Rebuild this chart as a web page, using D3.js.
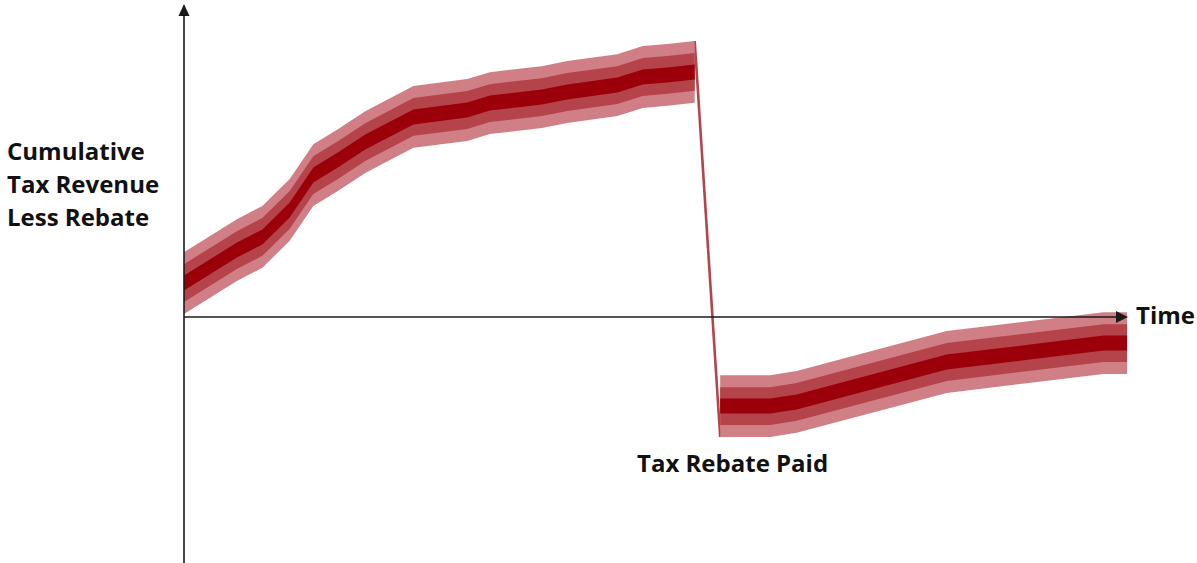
<!DOCTYPE html>
<html>
<head>
<meta charset="utf-8">
<script src="https://cdn.jsdelivr.net/npm/d3@7"></script>
<style>
  body { margin: 0; background: #fff; }
  svg text { font-family: "Open Sans", Lato, sans-serif; font-weight: 700; fill: #111; }
</style>
</head>
<body>
<svg id="chart" width="1197" height="563"></svg>
<script>
// time points and cumulative revenue before the rebate
const timeBefore = [0, 5.6, 8.3, 11.2, 13.7, 16.3, 19.2, 24.3, 30.0, 32.4, 37.9, 40.6, 45.9, 48.6, 51.2, 54.1];
const revBefore  = [11.3, 22.3, 26.7, 35.7, 47.3, 52.3, 58.3, 66.7, 69, 71.3, 73.3, 75, 77.3, 80, 80.7, 81.7];
// time points and cumulative revenue after the rebate
const timeAfter = [56.8, 59.2, 62.1, 64.9, 80.8, 97.4, 99.9];
const revAfter  = [-29.7, -29.7, -29.7, -28.3, -15, -8.7, -8.7];
// uncertainty band half-widths (outer, middle, inner)
const bandSpread = [10.3, 6.3, 2.5];
const bandColors = ["#cf7f85", "#b5434a", "#9b000a"];

const yLabel = ["Cumulative", "Tax Revenue", "Less Rebate"];
const xLabel = "Time";
const dropLabel = "Tax Rebate Paid";

const svg = d3.select("#chart");
const x = d3.scaleLinear().domain([0, 100]).range([184, 1128]);
const y = d3.scaleLinear().domain([0, 100]).range([317, 17]);

const before = timeBefore.map((t, i) => ({t, v: revBefore[i]}));
const after = timeAfter.map((t, i) => ({t, v: revAfter[i]}));

// drop at rebate: from top of band before to bottom of band after
const last = before[before.length - 1], first = after[0];
svg.append("line")
  .attr("x1", x(last.t)).attr("y1", y(last.v + bandSpread[0]))
  .attr("x2", x(first.t)).attr("y2", y(first.v - bandSpread[0]))
  .attr("stroke", "#b5434a").attr("stroke-width", 2.6);

[before, after].forEach(seg => {
  bandSpread.forEach((s, i) => {
    const area = d3.area()
      .x(d => x(d.t))
      .y0(d => y(d.v - s))
      .y1(d => y(d.v + s));
    svg.append("path")
      .datum(seg)
      .attr("d", area)
      .attr("fill", bandColors[i]);
  });
});

// axes with arrowheads
const axisColor = "#1a1a1a";
svg.append("line")
  .attr("x1", x(0)).attr("x2", x(0))
  .attr("y1", 563).attr("y2", 12)
  .attr("stroke", axisColor).attr("stroke-width", 1.6);
svg.append("path")
  .attr("d", `M${x(0)},4 L${x(0) - 5.5},16 L${x(0) + 5.5},16 Z`)
  .attr("fill", axisColor);

svg.append("line")
  .attr("x1", x(0)).attr("x2", x(100) - 8)
  .attr("y1", y(0)).attr("y2", y(0))
  .attr("stroke", axisColor).attr("stroke-width", 1.6);
svg.append("path")
  .attr("d", `M${x(100)},${y(0)} L${x(100) - 12},${y(0) - 6} L${x(100) - 12},${y(0) + 6} Z`)
  .attr("fill", axisColor);

// labels
svg.append("text")
  .attr("x", 7).attr("y", 160)
  .attr("font-size", 24)
  .selectAll("tspan")
  .data(yLabel)
  .join("tspan")
  .attr("x", 7)
  .attr("dy", (d, i) => i ? 33 : 0)
  .text(d => d);

svg.append("text")
  .attr("x", 1136).attr("y", 324)
  .attr("font-size", 24)
  .text(xLabel);

svg.append("text")
  .attr("x", 637).attr("y", 472)
  .attr("font-size", 24)
  .text(dropLabel);
</script>
</body>
</html>
